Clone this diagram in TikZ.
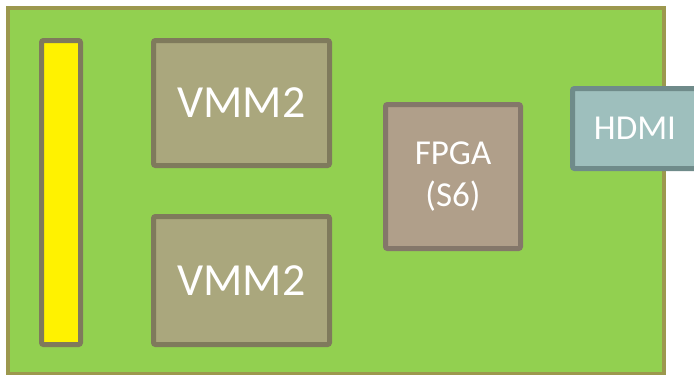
\documentclass[tikz,border=0pt]{standalone}
\usepackage{fontspec}
\setmainfont{Carlito}
\usetikzlibrary{positioning}
\definecolor{BoardGreen}{HTML}{92D050}
\definecolor{BoardEdge}{HTML}{9C984E}
\definecolor{ChipEdge}{HTML}{7F7A5C}
\definecolor{VmmFill}{HTML}{AAA77D}
\definecolor{FpgaFill}{HTML}{B09F8A}
\definecolor{FpgaEdge}{HTML}{84776A}
\definecolor{HdmiFill}{HTML}{9EBFBD}
\definecolor{HdmiEdge}{HTML}{6F8B8A}
\tikzset{
  board/.style={draw=BoardEdge, fill=BoardGreen, line width=4pt, inner sep=0pt, minimum width=656pt, minimum height=366pt},
  slot/.style={rounded corners=2pt, draw=ChipEdge, fill=yellow, line width=5pt, inner sep=0pt, minimum width=39pt, minimum height=304pt},
  vmmbox/.style={rounded corners=2pt, draw=ChipEdge, fill=VmmFill, line width=5pt, inner sep=0pt, minimum width=176pt, text=white, font=\fontsize{46}{55}\selectfont},
  fpgabox/.style={rounded corners=2pt, draw=FpgaEdge, fill=FpgaFill, line width=5pt, inner sep=0pt, minimum width=135pt, minimum height=144pt, text=white, align=center, font=\fontsize{35}{42}\selectfont},
  hdmibox/.style={rounded corners=2pt, draw=HdmiEdge, fill=HdmiFill, line width=5pt, inner sep=0pt, minimum width=125pt, minimum height=80pt, text=white, font=\fontsize{35}{42}\selectfont}
}

\begin{document}
\begin{tikzpicture}[x=1pt,y=-1pt]
\useasboundingbox (0,0) rectangle (694,375);
\clip (0,0) rectangle (694,375);
\node[board] (pcb) at (336,191) {};
\node[slot] (conn) at (61,192.5) {};
\node[vmmbox, minimum height=125pt] (vmmA) at (241.5,103) {VMM2};
\node[vmmbox, minimum height=128pt] (vmmB) at (241.5,280.5) {VMM2};
\node[fpgabox] (fpga) at (453,176.5) {FPGA\\(S6)};
\node[hdmibox] (hdmi) at (635,128.5) {HDMI};
\end{tikzpicture}
\end{document}
